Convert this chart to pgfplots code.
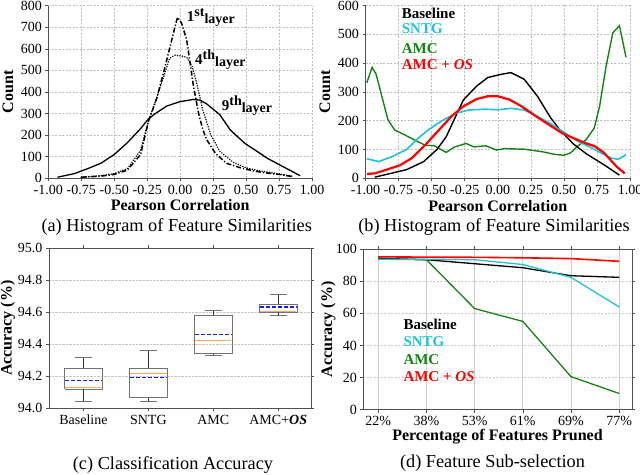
\documentclass[border=0pt]{standalone}
\usepackage{fontspec}
\setmainfont{Liberation Serif}
\usepackage{pgfplots}
\pgfplotsset{compat=1.18}

\definecolor{sntg}{RGB}{30,195,215}
\definecolor{amc}{RGB}{20,130,20}
\definecolor{med}{RGB}{255,170,100}
\definecolor{frame}{RGB}{80,80,80}
\definecolor{mean}{RGB}{20,30,240}

\newcommand\tickfont{\fontsize{14}{14}\selectfont}
\newcommand\labfont{\fontsize{16}{16}\selectfont\bfseries}
\newcommand\capfont{\fontsize{18.3}{18.3}\selectfont}
\newcommand\legfont{\fontsize{15}{15}\selectfont\bfseries}
\newcommand\layer[1]{{\fontsize{15}{15}\selectfont\bfseries #1}}
\newcommand\lsup[1]{\raisebox{5pt}{\fontsize{14}{14}\selectfont\bfseries #1}}
\newcommand\lsub[1]{\raisebox{-1.5pt}{\fontsize{14}{14}\selectfont\bfseries #1}}

\pgfplotsset{
  base/.style={scale only axis, anchor=south west,
    /pgf/number format/assume math mode=true,
    tick label style={font=\tickfont},
    label style={font=\labfont, anchor=center},
    axis line style={frame}, tick style={frame, thin},
    tick align=outside, major tick length=3pt},
  hist/.style={base, axis x line*=bottom, axis y line*=left,
    xmin=-1, xmax=1, ymin=0,
    xtick={-1,-0.75,-0.5,-0.25,0,0.25,0.5,0.75,1},
    xticklabel style={yshift=-0.5pt, /pgf/number format/.cd, fixed, fixed zerofill, precision=2},
    grid=major, grid style={gray!50, dash pattern=on 2pt off 1.5pt},
    xlabel={Pearson Correlation}, ylabel={Count}},
}

\begin{document}
\begin{tikzpicture}
\path[use as bounding box] (0,0) rectangle (640pt,474pt);

% (a) feature similarities per layer
\begin{axis}[hist, at={(48.3pt,295.7pt)}, width=263.7pt, height=172.8pt,
  ymax=800, ytick={0,100,200,300,400,500,600,700,800},
  xlabel style={at={(axis description cs:0.5,-0.152)}},
  ylabel style={at={(axis description cs:-0.153,0.5)}}]
\addplot[black, line width=1.3pt] coordinates {
  (-0.93,5) (-0.8,22) (-0.7,45) (-0.6,70) (-0.5,110) (-0.4,165) (-0.3,230)
  (-0.25,268) (-0.2,295) (-0.1,335) (0,355) (0.1,365) (0.15,362) (0.2,345)
  (0.3,295) (0.38,224) (0.49,162) (0.6,118) (0.66,93) (0.78,54) (0.91,12)};
\addplot[black, line width=1.5pt, dash pattern=on 5pt off 2pt on 1.2pt off 2pt] coordinates {
  (-0.75,5) (-0.6,10) (-0.5,18) (-0.4,38) (-0.3,110) (-0.24,265) (-0.18,365)
  (-0.13,480) (-0.08,600) (-0.04,700) (-0.02,745) (0.01,720) (0.05,640)
  (0.1,430) (0.14,300) (0.17,230) (0.2,180) (0.27,114) (0.35,70) (0.45,50)
  (0.55,35) (0.65,25) (0.75,18) (0.85,8)};
\addplot[black, line width=1.6pt, line cap=round, dash pattern=on 0.1pt off 2.4pt] coordinates {
  (-0.75,5) (-0.6,12) (-0.5,22) (-0.4,45) (-0.3,130) (-0.24,265) (-0.18,370)
  (-0.12,480) (-0.08,555) (-0.04,570) (0.02,565) (0.05,560) (0.09,520)
  (0.13,430) (0.17,320) (0.23,205) (0.3,125) (0.4,75) (0.5,48) (0.6,35)
  (0.75,20) (0.85,10)};
\end{axis}

% (b) feature similarities per method
\begin{axis}[hist, at={(365.5pt,295.7pt)}, width=264.5pt, height=172.8pt,
  ymax=600, ytick={0,100,200,300,400,500,600},
  xlabel style={at={(axis description cs:0.5,-0.16)}},
  ylabel style={at={(axis description cs:-0.153,0.5)}}]
\addplot[amc, line width=1.4pt] coordinates {
  (-0.99,332) (-0.95,385) (-0.92,362) (-0.87,273) (-0.83,203) (-0.78,168)
  (-0.7,150) (-0.63,133) (-0.55,115) (-0.48,113) (-0.39,90) (-0.33,108)
  (-0.24,121) (-0.18,109) (-0.09,113) (-0.01,98) (0.05,103) (0.2,101)
  (0.34,92) (0.43,83) (0.5,80) (0.55,88) (0.6,110) (0.67,135) (0.73,175)
  (0.77,250) (0.82,391) (0.87,505) (0.92,530) (0.97,420)};
\addplot[black, line width=1.4pt] coordinates {
  (-0.93,4) (-0.8,18) (-0.69,30) (-0.56,58) (-0.46,100) (-0.39,144)
  (-0.3,233) (-0.26,272) (-0.16,320) (-0.075,350) (0.025,361) (0.1,367)
  (0.2,344) (0.3,285) (0.4,210) (0.47,168) (0.57,120) (0.67,85) (0.8,48)
  (0.92,11)};
\addplot[sntg, line width=1.6pt] coordinates {
  (-0.99,68) (-0.9,58) (-0.8,75) (-0.69,100) (-0.6,140) (-0.52,170)
  (-0.42,200) (-0.32,225) (-0.22,237) (-0.1,240) (0,238) (0.1,243)
  (0.2,237) (0.3,215) (0.4,190) (0.5,160) (0.6,130) (0.7,108) (0.78,88)
  (0.86,70) (0.91,66) (0.97,82)};
\addplot[red, line width=2.2pt] coordinates {
  (-0.99,15) (-0.93,17) (-0.84,30) (-0.74,45) (-0.65,70) (-0.55,115)
  (-0.45,165) (-0.35,215) (-0.26,250) (-0.16,275) (-0.075,285) (0,285)
  (0.09,273) (0.18,250) (0.29,215) (0.39,185) (0.49,156) (0.58,138)
  (0.67,121) (0.73,112) (0.8,90) (0.85,65) (0.9,40) (0.96,17)};
\end{axis}

% (c) classification accuracy: boxes, whiskers, medians and means
\begin{axis}[base, at={(49pt,65.7pt)}, width=261.7pt, height=160.3pt,
  xmin=0.47, xmax=4.5, ymin=94, ymax=95,
  ytick={94,94.2,94.4,94.6,94.8,95},
  yticklabel style={/pgf/number format/.cd, fixed, fixed zerofill, precision=1},
  xtick={1,2,3,4},
  xticklabels={Baseline,SNTG,AMC,AMC+\textbf{\textit{OS}}},
  ymajorgrids, grid style={gray!45, densely dotted},
  ylabel={Accuracy (\%)},
  ylabel style={at={(axis description cs:-0.157,0.5)}},
  unbounded coords=jump]
% boxes (lower quartile to upper quartile)
\addplot[gray!90!black, line width=0.9pt] coordinates {
  (0.71,94.12) (1.29,94.12) (1.29,94.25) (0.71,94.25) (0.71,94.12) (nan,nan)
  (1.71,94.065) (2.29,94.065) (2.29,94.25) (1.71,94.25) (1.71,94.065) (nan,nan)
  (2.71,94.34) (3.29,94.34) (3.29,94.58) (2.71,94.58) (2.71,94.34) (nan,nan)
  (3.71,94.6) (4.29,94.6) (4.29,94.65) (3.71,94.65) (3.71,94.6)};
% whisker stems
\addplot[black!80, line width=0.9pt] coordinates {
  (1,94.04) (1,94.12) (nan,nan) (1,94.25) (1,94.32) (nan,nan)
  (2,94.04) (2,94.065) (nan,nan) (2,94.25) (2,94.36) (nan,nan)
  (3,94.33) (3,94.34) (nan,nan) (3,94.58) (3,94.61) (nan,nan)
  (4,94.58) (4,94.6) (nan,nan) (4,94.65) (4,94.71)};
% whisker caps
\addplot[gray!90!black, line width=0.9pt] coordinates {
  (0.87,94.04) (1.13,94.04) (nan,nan) (0.87,94.32) (1.13,94.32) (nan,nan)
  (1.87,94.04) (2.13,94.04) (nan,nan) (1.87,94.36) (2.13,94.36) (nan,nan)
  (2.87,94.33) (3.13,94.33) (nan,nan) (2.87,94.61) (3.13,94.61) (nan,nan)
  (3.87,94.58) (4.13,94.58) (nan,nan) (3.87,94.71) (4.13,94.71)};
% medians
\addplot[med, line width=0.9pt] coordinates {(0.72,94.13) (1.28,94.13)};
\addplot[med, line width=0.9pt] coordinates {(1.72,94.22) (2.28,94.22)};
\addplot[med, line width=0.9pt] coordinates {(2.72,94.425) (3.28,94.425)};
\addplot[med, line width=0.9pt] coordinates {(3.72,94.603) (4.28,94.603)};
% means
\addplot[mean, line width=1.2pt, dash pattern=on 4pt off 2pt] coordinates {(0.72,94.175) (1.28,94.175)};
\addplot[mean, line width=1.2pt, dash pattern=on 4pt off 2pt] coordinates {(1.72,94.19) (2.28,94.19)};
\addplot[mean, line width=1.2pt, dash pattern=on 4pt off 2pt] coordinates {(2.72,94.46) (3.28,94.46)};
\addplot[mean, line width=1.2pt, dash pattern=on 4pt off 2pt] coordinates {(3.72,94.632) (4.28,94.632)};
\end{axis}

% (d) feature sub-selection
\begin{axis}[base, at={(363.3pt,64.5pt)}, width=268.4pt, height=160.2pt,
  xmin=-0.31, xmax=5.26, ymin=0, ymax=100,
  ytick={0,20,40,60,80,100}, xtick={0,1,2,3,4,5},
  xticklabels={22\%,38\%,53\%,61\%,69\%,77\%},
  xmajorgrids, ymajorgrids,
  x grid style={gray!40, solid, line width=0.8pt},
  y grid style={gray!45, dash pattern=on 2pt off 1.5pt},
  xlabel={Percentage of Features Pruned}, ylabel={Accuracy (\%)},
  xlabel style={at={(axis description cs:0.5,-0.172)}},
  ylabel style={at={(axis description cs:-0.13,0.5)}}]
\addplot[amc, line width=1.3pt] coordinates {
  (0,93.8) (1,93.5) (2,63) (3,55) (4,20.5) (5,10)};
\addplot[black, line width=1.3pt] coordinates {
  (0,94.4) (1,93.5) (2,91) (3,88.5) (4,83.5) (5,82.5)};
\addplot[sntg, line width=1.3pt] coordinates {
  (0,93.8) (1,93.8) (2,93.5) (3,90.5) (4,82.5) (5,64)};
\addplot[red, line width=1.6pt] coordinates {
  (0,95.3) (1,95.1) (2,95) (3,94.7) (4,94.2) (5,92.5)};
\end{axis}

% layer labels of (a)
\node[anchor=base west, inner sep=0] at (186.7pt,452.3pt) {\layer{1}\lsup{st}\lsub{layer}};
\node[anchor=base west, inner sep=0] at (195pt,409pt) {\layer{4}\lsup{th}\lsub{layer}};
\node[anchor=base west, inner sep=0] at (221.7pt,363.3pt) {\layer{9}\lsup{th}\lsub{layer}};

% legend of (b)
\node[anchor=base west, inner sep=0, font=\legfont, text=black] at (401.7pt,455.7pt) {Baseline};
\node[anchor=base west, inner sep=0, font=\legfont, text=sntg] at (401.7pt,440.7pt) {SNTG};
\node[anchor=base west, inner sep=0, font=\legfont, text=amc] at (401.7pt,420.7pt) {AMC};
\node[anchor=base west, inner sep=0, font=\legfont, text=red] at (401.7pt,404pt) {AMC + \textit{OS}};

% legend of (d)
\node[anchor=base west, inner sep=0, font=\legfont, text=black] at (403.3pt,144.7pt) {Baseline};
\node[anchor=base west, inner sep=0, font=\legfont, text=sntg] at (403.3pt,127pt) {SNTG};
\node[anchor=base west, inner sep=0, font=\legfont, text=amc] at (403.3pt,109.3pt) {AMC};
\node[anchor=base west, inner sep=0, font=\legfont, text=red] at (403.3pt,92pt) {AMC + \textit{OS}};

% captions
\node[anchor=base, inner sep=0, font=\capfont] at (176.7pt,242.3pt) {(a) Histogram of Feature Similarities};
\node[anchor=base, inner sep=0, font=\capfont] at (494pt,242.3pt) {(b) Histogram of Feature Similarities};
\node[anchor=base, inner sep=0, font=\capfont] at (173pt,4.3pt) {(c) Classification Accuracy};
\node[anchor=base, inner sep=0, font=\capfont] at (492.5pt,6pt) {(d) Feature Sub-selection};
\end{tikzpicture}
\end{document}
